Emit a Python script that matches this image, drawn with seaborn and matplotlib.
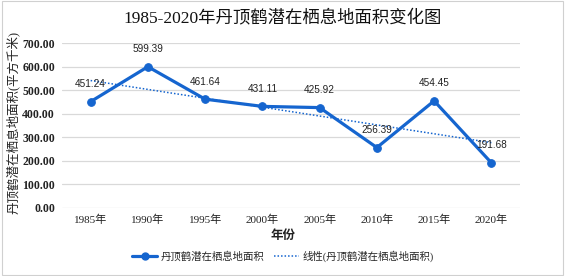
import matplotlib
matplotlib.use("Agg")
import matplotlib.pyplot as plt
import seaborn as sns
import numpy as np
from matplotlib.lines import Line2D
from matplotlib.patches import Rectangle

years = ["1985年", "1990年", "1995年", "2000年", "2005年", "2010年", "2015年", "2020年"]
areas = [451.24, 599.39, 461.64, 431.11, 425.92, 256.39, 454.45, 191.68]
yticks = [0, 100, 200, 300, 400, 500, 600, 700]

title = "1985-2020年丹顶鹤潜在栖息地面积变化图"
xlabel = "年份"
ylabel = "丹顶鹤潜在栖息地面积(平方千米)"
series_name = "丹顶鹤潜在栖息地面积"
trend_name = "线性(丹顶鹤潜在栖息地面积)"

sns.set_theme(style="white")
serif = ["Liberation Serif", "Noto Sans CJK SC"]
sans = ["Liberation Sans", "Noto Sans CJK SC"]
plt.rcParams["font.family"] = serif

color = "#1565CF"
fig = plt.figure(figsize=(5.66, 2.76), dpi=100)
ax = fig.add_axes([62/566, 1-208/276, (520-62)/566, (208-43)/276])

idx = np.arange(len(years))
sns.regplot(x=idx, y=np.array(areas), ax=ax, ci=None, scatter=False,
            line_kws=dict(color=color, lw=1.1, ls=(0, (1, 1.3))))
sns.lineplot(x=idx, y=areas, ax=ax, color=color, lw=2.3, marker="o",
             markersize=5.5, markeredgecolor=color)

for i, v in enumerate(areas):
    ax.annotate(f"{v:.2f}", (i, v), xytext=(0, 9), textcoords="offset points",
                ha="center", va="bottom", fontsize=7.2, family=sans, color="#222222")

ax.set_xlim(-0.5, len(years) - 0.5)
ax.set_ylim(0, 700)
ax.set_yticks(yticks)
ax.set_yticklabels([f"{t:.2f}" for t in yticks], fontsize=8.5, fontweight="bold", color="#222222")
ax.set_xticks(idx)
ax.set_xticklabels(years, fontsize=8, color="#222222", family=serif)
ax.tick_params(axis="both", length=0, pad=5)
ax.grid(axis="y", color="#D9D9D9", lw=0.9)
for s in ax.spines.values():
    s.set_visible(False)
ax.set_xlabel("")
ax.set_ylabel("")

fig.text(0.5, 1-18/276, title, ha="center", va="center", fontsize=12.5, family=serif, color="#111111")
fig.text(0.5, 1-236/276, xlabel, ha="center", va="center", fontsize=9, fontweight="bold", family=serif, color="#222222")
fig.text(13/566, 1-122/276, ylabel, ha="center", va="center", rotation=90, fontsize=9, family=serif, color="#222222")

handles = [Line2D([], [], color=color, lw=2.3, marker="o", markersize=5),
           Line2D([], [], color=color, lw=1.1, ls=(0, (1, 1.3)))]
fig.legend(handles, [series_name, trend_name], loc="center", bbox_to_anchor=(0.5, 1-256/276),
           ncol=2, frameon=False, prop=dict(family=serif, size=7.5), handlelength=2.4,
           columnspacing=1.0, handletextpad=0.3)

fig.add_artist(Rectangle((0.003, 0.005), 0.992, 0.99, transform=fig.transFigure,
                         fill=False, ec="#D0D0D0", lw=0.8))

fig.savefig("out.png", dpi=100)
